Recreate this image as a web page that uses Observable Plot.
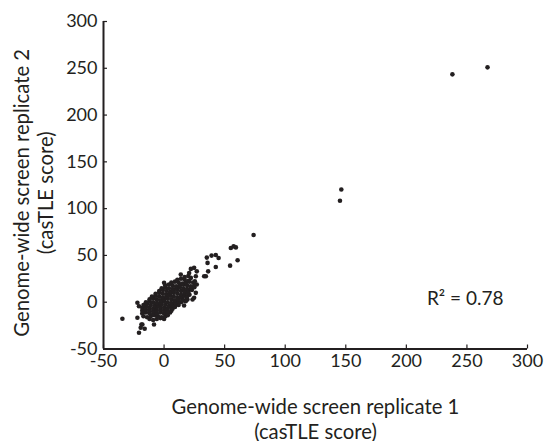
<!DOCTYPE html>
<html><head><meta charset="utf-8">
<script src="https://cdn.jsdelivr.net/npm/d3@7"></script>
<script src="https://cdn.jsdelivr.net/npm/@observablehq/plot@0.6"></script>
<style>html,body{margin:0;padding:0;background:#fff}</style>
</head><body><div id="chart"></div>
<script>
const xTicks = [-50, 0, 50, 100, 150, 200, 250, 300];
const yTicks = [-50, 0, 50, 100, 150, 200, 250, 300];
const xLabelLine1 = ["Genome-wide screen replicate 1"];
const xLabelLine2 = ["(casTLE score)"];
const yLabelLine1 = ["Genome-wide screen replicate 2"];
const yLabelLine2 = ["(casTLE score)"];
const annotations = [{x: 217, y: -3.5, text: "R\u00B2 = 0.78"}];

// dense cluster around the origin (replicate 1, replicate 2)
const cluster = [
  [-12,-18],[-9,-19],[-6,-18],[-3,-17],[0,-18],
  [-17,-15],[-14,-16],[-11,-15],[-8,-14],[-5,-15],[-2,-16],[1,-15],[3,-14],
  [-18,-12],[-15,-11],[-12,-12],[-9,-13],[-6,-12],[-3,-11],[0,-12],[3,-12],[5,-11],
  [-18,-9],[-15,-8],[-12,-9],[-9,-10],[-6,-9],[-3,-8],[0,-9],[3,-10],[6,-9],[7,-7],
  [-18,-6],[-15,-5],[-12,-6],[-9,-7],[-6,-6],[-3,-5],[0,-6],[3,-7],[6,-6],[9,-5],
  [-17,-3],[-14,-2],[-11,-3],[-8,-4],[-5,-3],[-2,-2],[1,-3],[4,-4],[7,-3],[10,-2],[12,-3],
  [-15,0],[-12,1],[-9,0],[-6,-1],[-3,0],[0,1],[3,0],[6,-1],[9,0],[12,1],[14,0],
  [-12,3],[-9,4],[-6,3],[-3,2],[0,3],[3,4],[6,3],[9,2],[12,3],[15,4],[16,2],
  [-10,6],[-7,7],[-4,6],[-1,5],[2,6],[5,7],[8,6],[11,5],[14,6],[17,7],[19,6],
  [-7,9],[-4,10],[-1,9],[2,8],[5,9],[8,10],[11,9],[14,8],[17,9],[20,10],[21,8],
  [-4,12],[-1,13],[2,12],[5,11],[8,12],[11,13],[14,12],[17,11],[20,12],[23,13],
  [-2,15],[1,16],[4,15],[7,14],[10,15],[13,16],[16,15],[19,14],[22,15],[25,16],
  [1,18],[4,19],[7,18],[10,17],[13,18],[16,19],[19,18],[22,17],[25,18],[27,19],
  [6,21],[9,22],[12,21],[15,20],[18,21],[21,22],[24,21],
  [11,24],[14,25],[17,24],[20,23],
  [17,27],[20,28]
];
// scattered genes outside the cluster
const scattered = [
  [73.9,71.9],[55.1,58.0],[57.4,59.7],[59.3,58.6],[60.7,44.8],[54.5,39.1],
  [35.3,47.7],[39.2,49.8],[42.7,50.5],[45.0,47.3],[35.9,42.0],[42.7,37.7],
  [36.4,33.0],[33.1,27.7],[34.5,27.7],[22.1,35.6],[24.8,36.7],[27.0,33.0],
  [26.2,27.7],[25.4,22.4],[20.7,31.3],[22.1,26.0],[26.2,10.0],[24.8,4.7],
  [19.3,2.9],[17.9,1.1],[13.8,29.5],[16.5,-3.5],[19.8,10.0],[23.5,2.9],[18.8,4.7],
  [-34.4,-17.7],[-22.0,-0.6],[-20.7,-4.3],[-22.0,-16.6],[-18.7,-23.8],
  [-16.0,-28.4],[-20.7,-32.6],[-8.3,-23.8],[0,20.7],[-17.9,-23.8],[-19.3,-27.3],
  [146.3,120.5],[145.2,108.4],[238,243.5],[267,251]
];
const scores = cluster.concat(scattered);

const ink = "#231f20";
const W = 546, H = 441, mL = 103, mR = 19, mT = 21, mB = 92.5;
const frameW = W - mL - mR, frameH = H - mT - mB, tickLen = 4;
const labelFont = 20.3;

const chart = Plot.plot({
  width: W, height: H,
  marginLeft: mL, marginRight: mR, marginTop: mT, marginBottom: mB,
  x: {domain: [-50, 300]},
  y: {domain: [-50, 300]},
  style: {fontFamily: "Lato, sans-serif", fontSize: "18px", color: ink, background: "#fff"},
  marks: [
    Plot.axisX({ticks: xTicks, tickSize: 0, tickPadding: 5, tickFormat: d => String(d), label: null, fill: ink}),
    Plot.axisY({ticks: yTicks, tickSize: 0, tickPadding: 6, tickFormat: d => String(d), label: null, fill: ink}),
    // inward tick marks
    Plot.ruleX(xTicks, {insetTop: frameH - tickLen, stroke: ink, strokeWidth: 1.2}),
    Plot.ruleY(yTicks, {insetRight: frameW - tickLen, stroke: ink, strokeWidth: 1.2}),
    Plot.ruleX([-50], {strokeWidth: 2, stroke: ink}),
    Plot.ruleY([-50], {strokeWidth: 2, stroke: ink}),
    Plot.dot(scores, {x: d => d[0], y: d => d[1], r: 2.3, fill: ink, stroke: null}),
    Plot.text(annotations, {x: "x", y: "y", text: "text", textAnchor: "start", lineAnchor: "bottom", fontSize: 19, fill: ink}),
    Plot.text(xLabelLine1, {frameAnchor: "bottom", textAnchor: "middle", lineAnchor: "bottom", dy: 64.5, fontSize: labelFont, fill: ink}),
    Plot.text(xLabelLine2, {frameAnchor: "bottom", textAnchor: "middle", lineAnchor: "bottom", dy: 90, fontSize: labelFont, fill: ink}),
    Plot.text(yLabelLine1, {frameAnchor: "left", textAnchor: "middle", lineAnchor: "bottom", rotate: -90, dx: -75, dy: 7.5, fontSize: labelFont, fill: ink}),
    Plot.text(yLabelLine2, {frameAnchor: "left", textAnchor: "middle", lineAnchor: "bottom", rotate: -90, dx: -51, dy: 7.5, fontSize: labelFont, fill: ink})
  ]
});
document.getElementById("chart").appendChild(chart);
</script>
</body></html>
